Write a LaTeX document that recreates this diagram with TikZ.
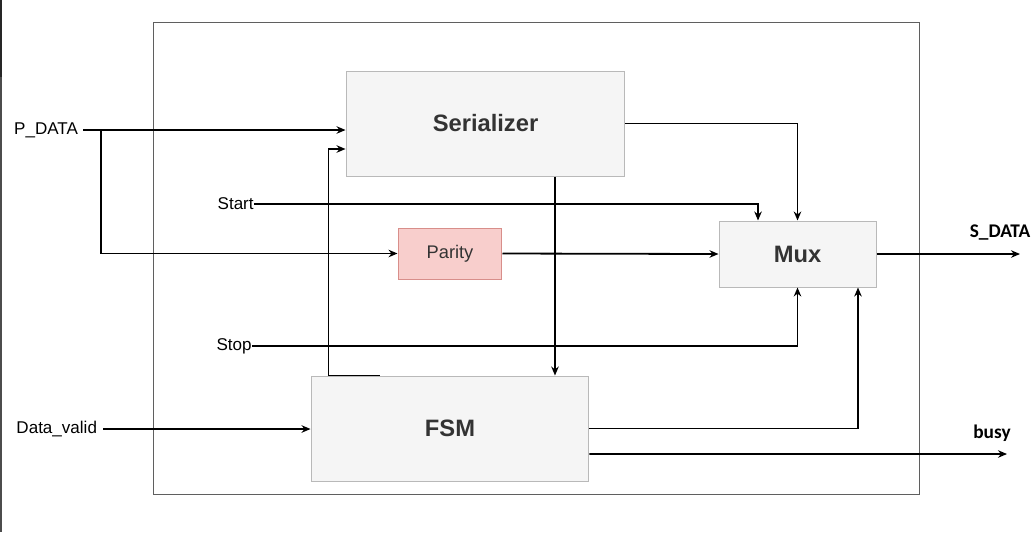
\documentclass[tikz,border=0pt]{standalone}
\usepackage{fontspec}
\setmainfont{Liberation Sans}
\newfontfamily\calibri{Carlito}
\usetikzlibrary{arrows.meta}

\definecolor{blockfill}{RGB}{245,245,245}
\definecolor{blockline}{RGB}{185,185,185}
\definecolor{parityfill}{RGB}{248,206,204}
\definecolor{parityline}{RGB}{216,142,138}
\definecolor{textcolor}{RGB}{51,51,51}
\definecolor{frameline}{RGB}{95,95,95}

\begin{document}
\begin{tikzpicture}[x=0.02cm,y=-0.02cm,
  block/.style={draw=blockline,fill=blockfill,line width=0.02cm,text=textcolor,
    font=\bfseries\fontsize{13.5}{16}\selectfont,inner sep=0pt},
  sig/.style={line width=0.036cm,-{Stealth[length=0.18cm,width=0.15cm]}},
  pin/.style={inner sep=0pt,anchor=east,font=\fontsize{9.7}{11}\selectfont},
  outpin/.style={inner sep=0pt,font=\calibri\bfseries\fontsize{11}{13}\selectfont}]
\useasboundingbox (0,0) rectangle (1033,532);
\fill[white] (0,0) rectangle (1033,532);
% screen edge
\draw[line width=0.04cm,black!85] (1,0) -- (1,77);
\draw[line width=0.04cm,black!70] (1,77) -- (1,532);
% outer frame
\draw[frameline,line width=0.02cm] (153,22) rectangle (919,494);
% blocks
\node[block,minimum width=5.58cm,minimum height=2.1cm] (ser) at (485.5,123.5) {Serializer};
\node[block,draw=parityline,fill=parityfill,font=\fontsize{10.4}{12}\selectfont,
  minimum width=2.08cm,minimum height=1.02cm] (par) at (450,253.5) {Parity};
\node[block,minimum width=3.14cm,minimum height=1.32cm] (mux) at (797.5,254) {Mux};
\node[block,minimum width=5.56cm,minimum height=2.1cm] (fsm) at (450,428.5) {FSM};
% ports
\node[pin,outer xsep=0.1cm] (pdata) at (83,130) {P\_DATA};
\node[pin] (start) at (254,204) {Start};
\node[pin] (stop) at (252,346) {Stop};
\node[pin,outer xsep=0.12cm] (dvalid) at (103,429) {Data\_valid};
\node[outpin] (sdata) at (1000,233) {S\_DATA};
\node[outpin] (busy) at (992,433) {busy};
\coordinate (sdout) at (1020,254);
\coordinate (busyout) at (1007,454);
% connectors
\draw[sig] (pdata.east) -- (pdata.east -| ser.west);
\draw[sig] ([xshift=0.36cm]pdata.east) |- (par.west);
\draw[sig] ([xshift=1.38cm]fsm.north west) -- ([xshift=0.36cm]fsm.north west)
  |- ([yshift=-0.51cm]ser.west);
\draw[sig] (start.east) -| ([xshift=-0.79cm]mux.north);
\draw[sig] (ser.east) -| (mux.north);
\draw[sig] (par.east) -- (mux.west);
\draw[sig] (stop.east) -| (mux.south);
\draw[sig] ([xshift=1.39cm]ser.south) -- ([xshift=1.39cm]ser.south |- fsm.north);
\draw[sig] (dvalid.east) -- (dvalid.east -| fsm.west);
\draw[sig] (fsm.east) -| ([xshift=1.21cm]mux.south);
\draw[sig] ([yshift=-0.51cm]fsm.east) -- (busyout);
\draw[sig] (mux.east) -- (sdout);
\end{tikzpicture}
\end{document}
